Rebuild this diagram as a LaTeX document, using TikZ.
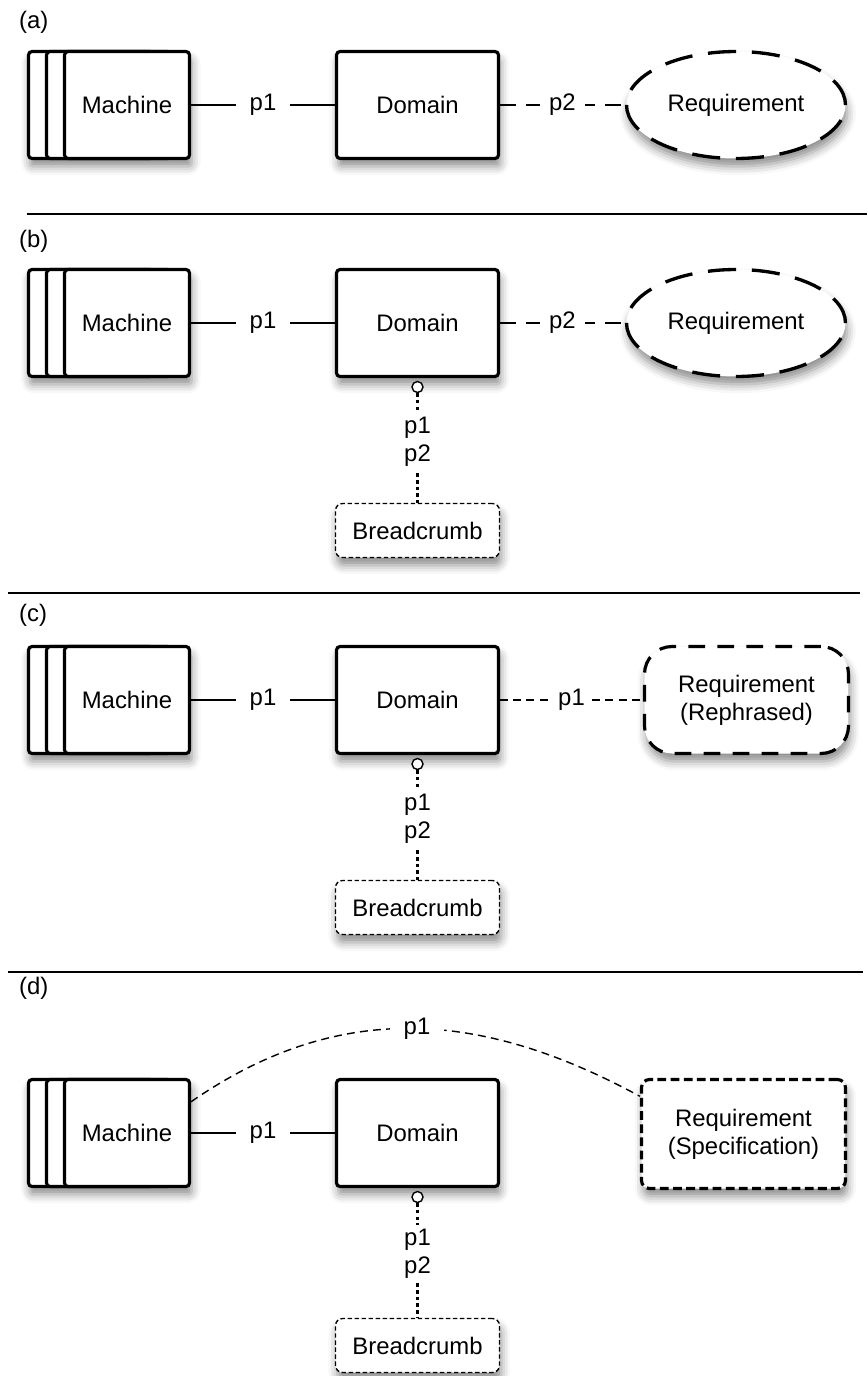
\documentclass[tikz,border=0pt]{standalone}
\usepackage{fontspec}
\setmainfont{Liberation Sans}
\usetikzlibrary{shapes.geometric,shadows.blur}
\begin{document}
\begin{tikzpicture}[x=0.02cm, y=-0.02cm, every node/.style={font=\fontsize{13.6}{16}\selectfont},
  shd/.style={blur shadow={shadow xshift=1pt,shadow yshift=-4.5pt,shadow blur radius=5pt,shadow opacity=45}},
  machbox/.style={draw,line width=1.8pt,rounded corners=2pt,fill=white,minimum width=2.5cm,minimum height=2.14cm},
  stackshd/.style={machbox,draw=none,minimum width=3.24cm,shd},
  dombox/.style={machbox,minimum width=3.24cm,shd},
  reqell/.style={ellipse,draw,line width=1.9pt,dash pattern=on 16pt off 9pt,fill=white,inner sep=0pt,minimum width=4.38cm,minimum height=2.14cm,shd},
  reqbox/.style={draw,line width=1.8pt,fill=white,align=center,minimum width=4.08cm,minimum height=2.14cm,shd},
  crumb/.style={draw,line width=0.8pt,dash pattern=on 2.5pt off 1.5pt,rounded corners=4pt,fill=white,minimum width=3.28cm,minimum height=1.08cm,shd},
  port/.style={circle,draw,line width=0.8pt,fill=white,minimum size=0.22cm,inner sep=0pt},
  lbl/.style={fill=white,inner xsep=8pt,inner ysep=2pt},
  plbl/.style={fill=white,align=center,inner xsep=2pt,inner ysep=2.3pt,pos=0.44},
  link/.style={line width=0.7pt},
  dlink/.style={line width=0.8pt,dash pattern=on 4.5pt off 3pt},
  ldlink/.style={line width=0.8pt,dash pattern=on 9pt off 6pt},
  dotlink/.style={line width=1.3pt,dash pattern=on 2pt off 1.8pt},
  rulesep/.style={line width=1.1pt}]
\useasboundingbox (0,0) rectangle (867,1376);
\draw[rulesep] (27,214) -- (867,214);
\draw[rulesep] (8,593) -- (860,593);
\draw[rulesep] (8,972) -- (863,972);
% (a)
\node[anchor=west] (ta) at (13,22) {(a)};
\node[stackshd] (sa) at (109,105) {};
\node[machbox] (ma3) at (91,105) {};
\node[machbox] (ma2) at (109,105) {};
\node[machbox] (ma) at (127,105) {Machine};
\node[dombox] (da) at (417.5,105) {Domain};
\node[reqell] (ra) at (736,105) {Requirement};
\draw[link] (ma) -- node[lbl]{p1} (da);
\draw[ldlink] (da) -- node[lbl,inner xsep=5pt]{p2} (ra);
% (b)
\node[anchor=west] (tb) at (13,241) {(b)};
\node[stackshd] (sb) at (109,323) {};
\node[machbox] (mb3) at (91,323) {};
\node[machbox] (mb2) at (109,323) {};
\node[machbox] (mb) at (127,323) {Machine};
\node[dombox] (db) at (417.5,323) {Domain};
\node[reqell] (rb) at (736,323) {Requirement};
\node[port] (pb) at (417.5,387) {};
\node[crumb] (bb) at (417.5,530.5) {Breadcrumb};
\draw[link] (mb) -- node[lbl]{p1} (db);
\draw[ldlink] (db) -- node[lbl,inner xsep=5pt]{p2} (rb);
\draw[dotlink] (pb) -- node[plbl]{p1\\p2} (bb);
% (c)
\node[anchor=west] (tc) at (13,615) {(c)};
\node[stackshd] (sc) at (109,700) {};
\node[machbox] (mc3) at (91,700) {};
\node[machbox] (mc2) at (109,700) {};
\node[machbox] (mc) at (127,700) {Machine};
\node[dombox] (dc) at (417.5,700) {Domain};
\node[reqbox,dash pattern=on 9.5pt off 7pt,rounded corners=0.55cm] (rc) at (746.5,700) {Requirement\\(Rephrased)};
\node[port] (pc) at (417.5,764) {};
\node[crumb] (bc) at (417.5,907.5) {Breadcrumb};
\draw[link] (mc) -- node[lbl]{p1} (dc);
\draw[dlink] (dc) -- node[lbl,inner xsep=3pt]{p1} (rc);
\draw[dotlink] (pc) -- node[plbl]{p1\\p2} (bc);
% (d)
\node[anchor=west] (td) at (13,988) {(d)};
\node[stackshd] (sd) at (109,1133) {};
\node[machbox] (md3) at (91,1133) {};
\node[machbox] (md2) at (109,1133) {};
\node[machbox] (md) at (127,1133) {Machine};
\node[dombox] (dd) at (417.5,1133) {Domain};
\node[reqbox,dash pattern=on 5pt off 2.5pt,rounded corners=0.16cm,minimum height=2.18cm] (rd) at (743.5,1134) {Requirement\\(Specification)};
\node[port] (pd) at (417.5,1197) {};
\node[crumb] (bd) at (417.5,1345.5) {Breadcrumb};
\draw[link] (md) -- node[lbl]{p1} (dd);
\draw[dlink] (md.26) .. controls (345,995) and (490,1015) .. node[lbl]{p1} (rd.160);
\draw[dotlink] (pd) -- node[plbl]{p1\\p2} (bd);
\end{tikzpicture}
\end{document}
